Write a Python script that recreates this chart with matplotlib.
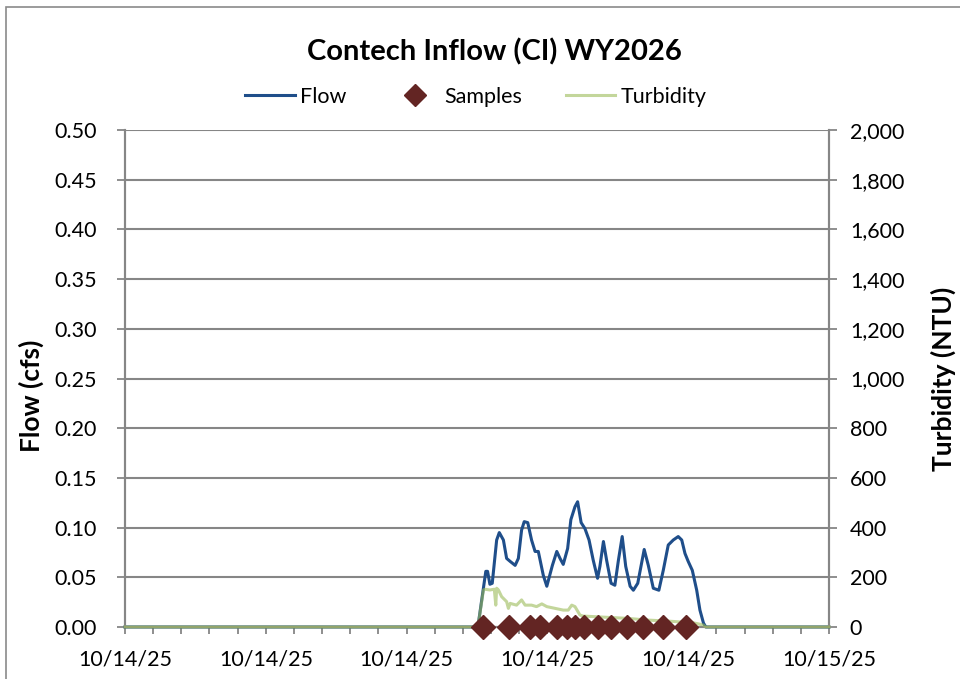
import matplotlib.pyplot as plt
from matplotlib.lines import Line2D
from matplotlib.patches import Rectangle

# Hours after 10/14/25 00:00
flow_hours = [0.0, 12.03, 12.30, 12.36, 12.44, 12.52, 12.67, 12.76, 12.90, 13.01,
              13.13, 13.30, 13.41, 13.52, 13.61, 13.73, 13.86, 13.98, 14.09, 14.26,
              14.38, 14.57, 14.72, 14.83, 14.94, 15.09, 15.20, 15.34, 15.43, 15.55,
              15.68, 15.82, 15.96, 16.11, 16.19, 16.31, 16.42, 16.57, 16.70, 16.82,
              16.95, 17.07, 17.22, 17.33, 17.48, 17.59, 17.70, 17.84, 18.01, 18.20,
              18.35, 18.52, 18.69, 18.86, 18.98, 19.09, 19.20, 19.34, 19.49, 19.60,
              19.72, 19.80, 24.0]
flow_cfs = [0.0, 0.0, 0.056, 0.056, 0.043, 0.044, 0.0875, 0.095, 0.0875, 0.069,
            0.066, 0.062, 0.069, 0.0975, 0.106, 0.105, 0.0875, 0.076, 0.076, 0.052,
            0.041, 0.062, 0.076, 0.069, 0.063, 0.079, 0.108, 0.121, 0.126, 0.105,
            0.099, 0.0875, 0.0675, 0.049, 0.061, 0.086, 0.067, 0.044, 0.042, 0.067,
            0.091, 0.061, 0.041, 0.037, 0.044, 0.061, 0.078, 0.062, 0.039, 0.037,
            0.057, 0.0825, 0.0875, 0.091, 0.0875, 0.074, 0.066, 0.057, 0.037, 0.017,
            0.004, 0.0, 0.0]

turb_hours = [0.0, 12.03, 12.22, 12.27, 12.44, 12.59, 12.64, 12.67, 12.73, 12.84,
              13.01, 13.07, 13.13, 13.35, 13.52, 13.64, 13.86, 14.03, 14.21, 14.38,
              14.66, 14.94, 15.11, 15.23, 15.34, 15.51, 15.62, 16.42, 17.10, 17.79,
              18.47, 19.37, 19.72, 19.80, 24.0]
turb_ntu = [0, 0, 149, 152, 149, 152, 88, 156, 149, 122,
            102, 75, 95, 88, 109, 88, 88, 82, 93, 82,
            75, 68, 68, 88, 82, 48, 44, 39, 35, 28,
            24, 17, 8, 0, 0]

# samples are plotted at zero flow
sample_hours = [12.22, 13.10, 13.81, 14.15, 14.74, 15.08, 15.34, 15.65, 16.14,
                16.56, 17.10, 17.67, 18.33, 19.13]
sample_cfs = [0.0] * len(sample_hours)

xtick_hours = [0, 4.8, 9.6, 14.4, 19.2, 24.0]
xtick_labels = ["10/14/25", "10/14/25", "10/14/25", "10/14/25", "10/14/25", "10/15/25"]

plt.rcParams["font.family"] = ["Lato", "DejaVu Sans"]
grey = "#868686"
flow_color = "#1F4E8A"
turb_color = "#9BBB59"
sample_color = "#632523"
fontsize = 15.5

fig = plt.figure(figsize=(9.6, 6.79), dpi=100)
fig.patches.append(Rectangle((6 / 960, -0.1), 1.2, 1 - 7 / 679 + 0.1, transform=fig.transFigure,
                             fill=False, edgecolor="#8a8a8a", linewidth=1.2))
ax = fig.add_axes([125 / 960, 1 - 627 / 679, 704 / 960, 497 / 679])
ax2 = ax.twinx()
ax.set_zorder(ax2.get_zorder() - 1)
ax2.patch.set_visible(False)

ax.plot(flow_hours, flow_cfs, color=flow_color, linewidth=2.2, zorder=3, clip_on=False)
ax2.plot(turb_hours, turb_ntu, color=turb_color, alpha=0.6, linewidth=2.2, zorder=3, clip_on=False)
# zero flow sits at zero on the right axis too, so draw the samples on top there
ax2.plot(sample_hours, sample_cfs, linestyle="none", marker="D",
         markersize=12, color=sample_color, zorder=5, clip_on=False)

ax.set_xlim(0, 24)
ax.set_ylim(0, 0.5)
ax2.set_ylim(0, 2000)
ax.set_yticks([i * 0.05 for i in range(11)])
ax.set_yticklabels(["%.2f" % (i * 0.05) for i in range(11)])
ax2.set_yticks(range(0, 2001, 200))
ax2.set_yticklabels(["{:,}".format(v) for v in range(0, 2001, 200)])
ax.set_xticks(xtick_hours)
ax.set_xticklabels(xtick_labels)
ax.set_xticks([i * 0.96 for i in range(26)], minor=True)

ax.grid(True, axis="y", color=grey, linewidth=1.5)
for a in (ax, ax2):
    for s in a.spines.values():
        s.set_color(grey)
        s.set_linewidth(1.5)
    a.spines["top"].set_visible(False)
    a.tick_params(colors=grey, labelcolor="black", labelsize=fontsize, width=1.3, length=6)
ax.tick_params(axis="x", which="both", length=5, pad=11)
ax.tick_params(axis="x", which="minor", colors=grey, width=1.3)
ax.tick_params(axis="y", pad=14)
ax2.tick_params(axis="y", pad=9)

fig.text(31 / 960, 1 - 396 / 679, "Flow (cfs)", rotation=90, ha="center", va="center",
         fontsize=19, fontweight="bold")
fig.text(943 / 960, 1 - 379 / 679, "Turbidity (NTU)", rotation=90, ha="center", va="center",
         fontsize=19, fontweight="bold")

handles = [Line2D([], [], color=flow_color, linewidth=2.2),
           Line2D([], [], linestyle="none", marker="D", markersize=11, color=sample_color),
           Line2D([], [], color=turb_color, alpha=0.6, linewidth=2.2)]
fig.legend(handles, ["Flow", "Samples", "Turbidity"], loc="center", bbox_to_anchor=(476 / 960, 1 - 97 / 679),
           ncol=3, frameon=False, fontsize=fontsize, handlelength=2.3, handletextpad=0.25, columnspacing=2.0)
fig.text(494 / 960, 1 - 52 / 679, "Contech Inflow (CI) WY2026", ha="center", va="center",
         fontsize=21, fontweight="bold")

fig.savefig("out.png", dpi=100)
